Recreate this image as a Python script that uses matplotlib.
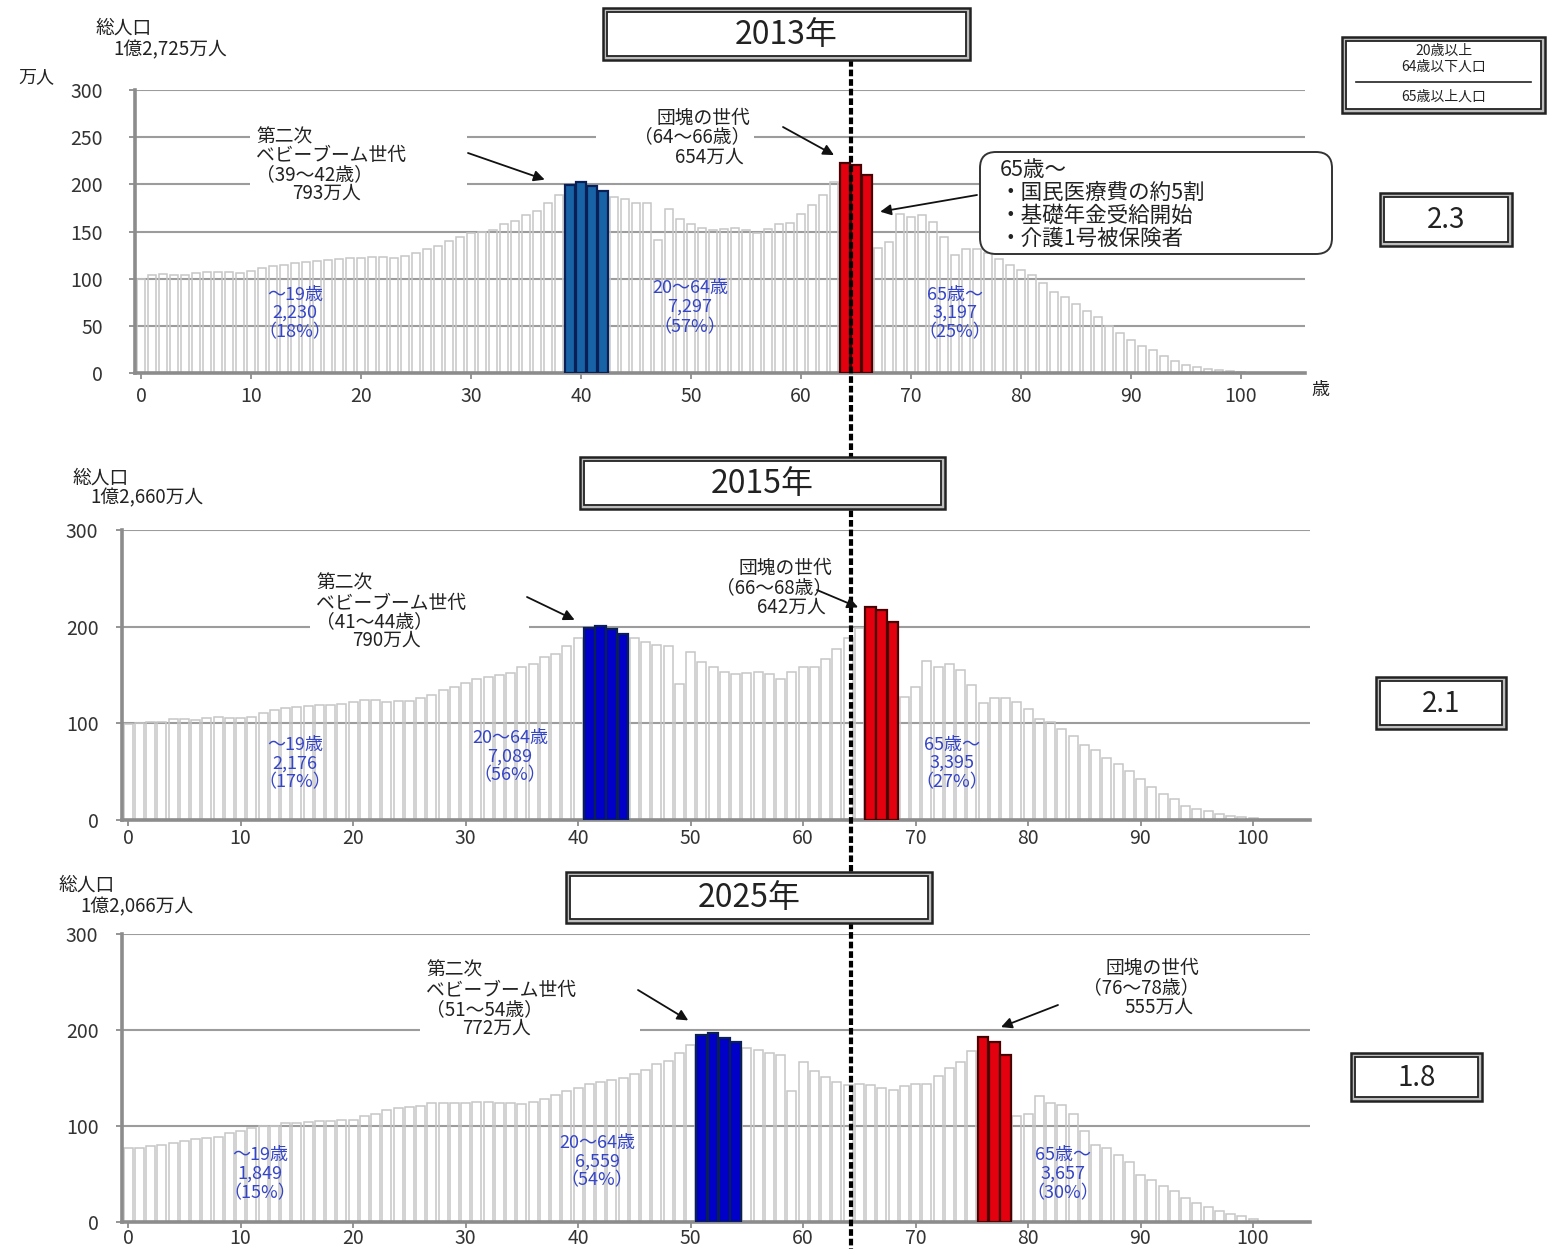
import numpy as np
from matplotlib import pyplot as plt
from matplotlib.patches import Rectangle, FancyBboxPatch, ConnectionPatch
from matplotlib.lines import Line2D
from matplotlib.transforms import Affine2D

plt.rcParams['font.family'] = ['Noto Sans CJK JP', 'DejaVu Sans']

W, H = 1547, 1249

ages = np.arange(101)
age_ticks = np.arange(0, 101, 10)

# population by single year of age (万人), last bar = 100
pop_2013 = [100, 104, 105, 104, 104, 106, 107, 107, 107, 106,
            108, 111, 113, 115, 117, 118, 119, 120, 121, 122,
            122, 123, 123, 122, 124, 127, 131, 135, 140, 144,
            148, 150, 152, 158, 161, 168, 172, 180, 189,
            199, 203, 198, 193,
            187, 184, 180, 180, 141, 174, 163, 158, 154, 152, 153, 154, 152, 148, 153, 158, 159, 169, 178, 189, 203,
            223, 221, 210,
            132, 139, 169, 165, 167, 160, 144, 125, 131, 131, 127, 121, 114, 109, 104, 95, 86, 81, 73, 66,
            59, 50, 42, 35, 29, 24, 18, 13, 9, 6, 4, 3, 2, 1]
pop_2015 = [99, 100, 101, 101, 104, 104, 103, 106, 107, 106,
            106, 107, 111, 114, 116, 117, 118, 119, 119, 120,
            122, 124, 124, 122, 123, 123, 126, 129, 134, 138,
            142, 146, 148, 150, 152, 158, 161, 169, 172, 180, 188,
            199, 201, 198, 192,
            188, 184, 181, 180, 141, 174, 163, 158, 153, 151, 152, 153, 151, 146, 153, 158, 158, 167, 177, 188, 199,
            220, 217, 205,
            127, 138, 165, 158, 161, 155, 140, 121, 126, 126, 122, 115, 104, 101, 94, 87, 78, 72, 64, 58,
            51, 42, 34, 27, 22, 15, 11, 9, 6, 4, 3, 2]
pop_2025 = [77, 77, 79, 80, 82, 84, 86, 87, 89, 93,
            95, 98, 100, 100, 103, 103, 104, 105, 105, 106,
            106, 110, 113, 117, 119, 120, 121, 124, 124, 124,
            124, 125, 125, 124, 124, 123, 125, 128, 132, 136, 140,
            144, 146, 148, 150, 154, 158, 165, 168, 176, 184,
            195, 197, 192, 188,
            181, 179, 176, 174, 136, 167, 157, 151, 146, 143, 144, 143, 140, 137, 142, 144, 144, 152, 160, 167, 178,
            193, 188, 174,
            110, 112, 131, 124, 122, 113, 95, 80, 77, 70, 62, 49, 44, 37, 32, 25, 20, 16, 11, 8, 6, 3]

years = ['2013年', '2015年', '2025年']
totals = ['1億2,725万人', '1億2,660万人', '1億2,066万人']
boom2_span = [(39, 42), (41, 44), (51, 54)]
dankai_span = [(64, 66), (66, 68), (76, 78)]
group_names = ['～19歳', '20～64歳', '65歳～']
group_totals = [['2,230', '7,297', '3,197'], ['2,176', '7,089', '3,395'], ['1,849', '6,559', '3,657']]
group_shares = [['18%', '57%', '25%'], ['17%', '56%', '27%'], ['15%', '54%', '30%']]
ratios = ['2.3', '2.1', '1.8']
callout = ['65歳～', '・国民医療費の約5割', '・基礎年金受給開始', '・介護1号被保険者']

# page layout in pixels from the top-left corner
layout = [
    dict(axes=(135, 90, 1305, 373), x0=141, step=11.0, ygrid=50, ypad=19, xpad=5, blue='#1763a6',
         total=[(95, 28), (113, 50)], title=(603, 8, 970, 60), ratio=(1380, 193, 1512, 246),
         boom_left=256, boom_ys=[137, 155, 175, 193], boom_white=(250, 127, 467, 203),
         boom_tail=(468, 153), boom_tip=(-2.3, 2),
         dk_right=750, dk_ys=[118, 137, 157], dk_white=(596, 108, 754, 167),
         dk_tail=(783, 127), dk_tip=(-1.0, 8),
         groups=[(295, [295, 313, 332]), (690, [288, 307, 327]), (955, [295, 313, 332])]),
    dict(axes=(122, 530, 1310, 820), x0=128, step=11.25, ygrid=100, ypad=13, xpad=1.5, blue='#0000c8',
         total=[(72, 478), (90, 498)], title=(580, 457, 945, 509), ratio=(1376, 677, 1506, 729),
         boom_left=316, boom_ys=[583, 603, 622, 640], boom_white=(310, 572, 529, 650),
         boom_tail=(527, 597), boom_tip=(-1.3, 6),
         dk_right=832, dk_ys=[568, 588, 607], dk_white=(684, 558, 838, 617),
         dk_tail=(817, 590), dk_tip=(-1.1, 0),
         groups=[(295, [745, 764, 782]), (510, [738, 757, 775]), (952, [745, 763, 782])]),
    dict(axes=(122, 934, 1310, 1222), x0=128, step=11.25, ygrid=100, ypad=13, xpad=0, blue='#0000c8',
         total=[(58, 885), (80, 907)], title=(566, 872, 932, 923), ratio=(1351, 1053, 1482, 1101),
         boom_left=426, boom_ys=[970, 990, 1010, 1028], boom_white=(420, 960, 640, 1038),
         boom_tail=(638, 990), boom_tip=(-1.2, 13),
         dk_right=1199, dk_ys=[968, 988, 1007], dk_white=(1050, 958, 1207, 1017),
         dk_tail=(1058, 1005), dk_tip=(1.6, 10),
         groups=[(260, [1155, 1174, 1193]), (597, [1143, 1162, 1180]), (1063, [1155, 1174, 1193])]),
]

fig = plt.figure(figsize=(W / 100, H / 100), dpi=100)
px = Affine2D().scale(0.01, -0.01).translate(0, H / 100) + fig.dpi_scale_trans


def text(x, y, s, **kw):
    kw.setdefault('color', '#222222')
    kw.setdefault('va', 'center')
    kw.setdefault('zorder', 7)
    return fig.text(x, y, s, transform=px, **kw)


def double_box(x0, y0, x1, y1, z=6):
    fig.add_artist(Rectangle((x0, y0), x1 - x0, y1 - y0, transform=px, facecolor='#bdbdbd',
                             edgecolor='#222222', lw=1.8, zorder=z))
    fig.add_artist(Rectangle((x0 + 4, y0 + 4), x1 - x0 - 8, y1 - y0 - 8, transform=px,
                             facecolor='white', edgecolor='#222222', lw=1.3, zorder=z))


def white_patch(x0, y0, x1, y1):
    fig.add_artist(Rectangle((x0, y0), x1 - x0, y1 - y0, transform=px, facecolor='white',
                             edgecolor='none', zorder=2))


def arrow(ax, tail, tip):
    fig.add_artist(ConnectionPatch(xyA=tail, coordsA=px, xyB=tip, coordsB=ax.transData,
                                   arrowstyle='-|>', mutation_scale=16, lw=1.3,
                                   color='#111111', zorder=5))


def draw_panel(ax, pop, boom, dankai, blue, ygrid, ypad, xpad):
    is_blue = (ages >= boom[0]) & (ages <= boom[1])
    is_red = (ages >= dankai[0]) & (ages <= dankai[1])
    rest = ~(is_blue | is_red)
    ax.bar(ages[rest], pop[rest], width=0.8, facecolor='none', edgecolor='#c6c6c6', lw=1.1, zorder=2)
    ax.bar(ages[is_blue], pop[is_blue], width=0.96, facecolor=blue, edgecolor='#0a1f55', lw=1.6, zorder=3)
    ax.bar(ages[is_red], pop[is_red], width=0.96, facecolor='#e3000f', edgecolor='#4a0000', lw=1.6, zorder=3)
    ax.set_ylim(0, 300)
    ax.set_yticks(np.arange(0, 301, ygrid))
    ax.set_xticks(age_ticks)
    ax.grid(axis='y', color='#9c9c9c', lw=1.5)
    ax.set_axisbelow(True)
    for s in ('top', 'right'):
        ax.spines[s].set_visible(False)
    for s in ('left', 'bottom'):
        ax.spines[s].set_color('#8c8c8c')
        ax.spines[s].set_linewidth(2.6)
    ax.tick_params(colors='#8c8c8c', labelcolor='#333333', labelsize=14, length=4, width=1.3)
    ax.tick_params(axis='y', pad=ypad)
    ax.tick_params(axis='x', pad=xpad)
    ax.patch.set_alpha(0)


for i, (pop, lay) in enumerate(zip([pop_2013, pop_2015, pop_2025], layout)):
    pop = np.asarray(pop)
    l, t, r, b = lay['axes']
    ax = fig.add_axes([l / W, 1 - b / H, (r - l) / W, (b - t) / H])
    ax.set_xlim((l - lay['x0']) / lay['step'], (r - lay['x0']) / lay['step'])
    boom, dankai = boom2_span[i], dankai_span[i]
    draw_panel(ax, pop, boom, dankai, lay['blue'], lay['ygrid'], lay['ypad'], lay['xpad'])

    boom_vals = pop[boom[0]:boom[1] + 1]
    dk_vals = pop[dankai[0]:dankai[1] + 1]

    # total population
    (tx1, ty1), (tx2, ty2) = lay['total']
    text(tx1, ty1, '総人口', fontsize=13.5)
    text(tx2, ty2, totals[i], fontsize=13.5)

    # year title and old-age support ratio
    x0, y0, x1, y1 = lay['title']
    double_box(x0, y0, x1, y1)
    text((x0 + x1) / 2, (y0 + y1) / 2 + 1, years[i], fontsize=23, ha='center')
    x0, y0, x1, y1 = lay['ratio']
    double_box(x0, y0, x1, y1)
    text((x0 + x1) / 2, (y0 + y1) / 2 + 1, ratios[i], fontsize=20, ha='center')

    # second baby boom generation
    white_patch(*lay['boom_white'])
    lines = ['第二次', 'ベビーブーム世代', f'（{boom[0]}～{boom[1]}歳）', f'{boom_vals.sum()}万人']
    for k, (s, y) in enumerate(zip(lines, lay['boom_ys'])):
        text(lay['boom_left'] + (36 if k == 3 else 0), y, s, fontsize=13.5, ha='left')
    dx, dy = lay['boom_tip']
    arrow(ax, lay['boom_tail'], (boom[0] + dx, boom_vals.max() + dy))

    # baby boomers
    white_patch(*lay['dk_white'])
    lines = ['団塊の世代', f'（{dankai[0]}～{dankai[1]}歳）', f'{dk_vals.sum()}万人']
    for k, (s, y) in enumerate(zip(lines, lay['dk_ys'])):
        text(lay['dk_right'] - (6 if k == 2 else 0), y, s, fontsize=13.5, ha='right')
    dx, dy = lay['dk_tip']
    arrow(ax, lay['dk_tail'], (dankai[0] + dx, dk_vals.max() + dy))

    # age group totals
    for g, (cx, ys) in enumerate(lay['groups']):
        for s, y in zip([group_names[g], group_totals[i][g], f'（{group_shares[i][g]}）'], ys):
            text(cx, y, s, fontsize=13, ha='center', color='#3545c8')

    if i == 0:
        fig.add_artist(FancyBboxPatch((980, 152), 352, 102, boxstyle='round,pad=0,rounding_size=16',
                                      transform=px, facecolor='white', edgecolor='#333333',
                                      lw=1.4, zorder=3))
        for s, y in zip(callout, [170, 193, 216, 239]):
            text(1000, y, s, fontsize=15.5, ha='left')
        arrow(ax, (977, 195), (dankai[1] + 1.2, dk_vals[-1] - 39))
        text(18, 77, '万人', fontsize=13, ha='left')
        text(1320, 390, '歳', fontsize=13, ha='center')

# ratio legend
double_box(1342, 37, 1545, 113)
text(1444, 51, '20歳以上', fontsize=10, ha='center')
text(1444, 67, '64歳以下人口', fontsize=10, ha='center')
fig.add_artist(Line2D([1356, 1531], [82, 82], transform=px, color='#222222', lw=1.2, zorder=7))
text(1444, 97, '65歳以上人口', fontsize=10, ha='center')

# age 65 reference line
fig.add_artist(Line2D([851, 851], [60, 1249], transform=px, color='black', lw=3,
                      dashes=(1.6, 0.7), zorder=4))

fig.savefig('out.png', dpi=100)
